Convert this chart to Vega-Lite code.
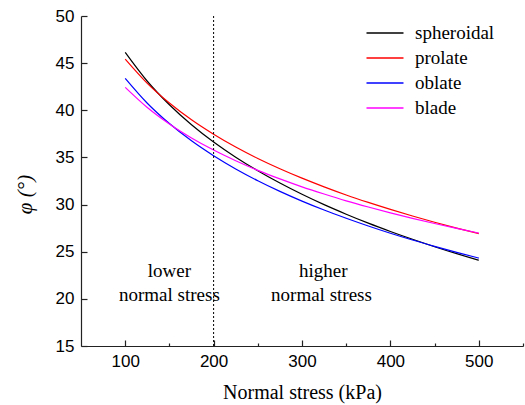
{
  "$schema": "https://vega.github.io/schema/vega-lite/v6.json",
  "width": 442,
  "height": 330,
  "autosize": {"type": "none"},
  "padding": {"left": 81, "top": 16, "right": 2, "bottom": 59},
  "background": "white",
  "config": {
    "view": {"stroke": null},
    "axis": {
      "domainColor": "#222",
      "domainWidth": 1.2,
      "tickColor": "#222",
      "tickWidth": 1.2,
      "labelFont": "Liberation Sans",
      "labelFontSize": 17,
      "labelColor": "black",
      "titleFont": "Liberation Serif",
      "titleFontSize": 20,
      "titleFontWeight": "normal",
      "titleColor": "black",
      "grid": false
    }
  },
  "layer": [
    {
      "data": {
        "values": [
          {"shape": "spheroidal", "stress": 100, "phi": 46.14},
          {"shape": "spheroidal", "stress": 125, "phi": 43.08},
          {"shape": "spheroidal", "stress": 150, "phi": 40.59},
          {"shape": "spheroidal", "stress": 175, "phi": 38.47},
          {"shape": "spheroidal", "stress": 200, "phi": 36.64},
          {"shape": "spheroidal", "stress": 225, "phi": 35.03},
          {"shape": "spheroidal", "stress": 250, "phi": 33.59},
          {"shape": "spheroidal", "stress": 275, "phi": 32.28},
          {"shape": "spheroidal", "stress": 300, "phi": 31.09},
          {"shape": "spheroidal", "stress": 325, "phi": 29.99},
          {"shape": "spheroidal", "stress": 350, "phi": 28.98},
          {"shape": "spheroidal", "stress": 375, "phi": 28.03},
          {"shape": "spheroidal", "stress": 400, "phi": 27.15},
          {"shape": "spheroidal", "stress": 425, "phi": 26.32},
          {"shape": "spheroidal", "stress": 450, "phi": 25.53},
          {"shape": "spheroidal", "stress": 475, "phi": 24.79},
          {"shape": "spheroidal", "stress": 500, "phi": 24.09},
          {"shape": "prolate", "stress": 100, "phi": 45.43},
          {"shape": "prolate", "stress": 125, "phi": 42.86},
          {"shape": "prolate", "stress": 150, "phi": 40.77},
          {"shape": "prolate", "stress": 175, "phi": 38.99},
          {"shape": "prolate", "stress": 200, "phi": 37.46},
          {"shape": "prolate", "stress": 225, "phi": 36.10},
          {"shape": "prolate", "stress": 250, "phi": 34.89},
          {"shape": "prolate", "stress": 275, "phi": 33.80},
          {"shape": "prolate", "stress": 300, "phi": 32.80},
          {"shape": "prolate", "stress": 325, "phi": 31.88},
          {"shape": "prolate", "stress": 350, "phi": 31.02},
          {"shape": "prolate", "stress": 375, "phi": 30.23},
          {"shape": "prolate", "stress": 400, "phi": 29.49},
          {"shape": "prolate", "stress": 425, "phi": 28.79},
          {"shape": "prolate", "stress": 450, "phi": 28.13},
          {"shape": "prolate", "stress": 475, "phi": 27.51},
          {"shape": "prolate", "stress": 500, "phi": 26.92},
          {"shape": "oblate", "stress": 100, "phi": 43.39},
          {"shape": "oblate", "stress": 125, "phi": 40.75},
          {"shape": "oblate", "stress": 150, "phi": 38.59},
          {"shape": "oblate", "stress": 175, "phi": 36.76},
          {"shape": "oblate", "stress": 200, "phi": 35.18},
          {"shape": "oblate", "stress": 225, "phi": 33.78},
          {"shape": "oblate", "stress": 250, "phi": 32.53},
          {"shape": "oblate", "stress": 275, "phi": 31.40},
          {"shape": "oblate", "stress": 300, "phi": 30.37},
          {"shape": "oblate", "stress": 325, "phi": 29.42},
          {"shape": "oblate", "stress": 350, "phi": 28.55},
          {"shape": "oblate", "stress": 375, "phi": 27.73},
          {"shape": "oblate", "stress": 400, "phi": 26.96},
          {"shape": "oblate", "stress": 425, "phi": 26.24},
          {"shape": "oblate", "stress": 450, "phi": 25.57},
          {"shape": "oblate", "stress": 475, "phi": 24.93},
          {"shape": "oblate", "stress": 500, "phi": 24.32},
          {"shape": "blade", "stress": 100, "phi": 42.43},
          {"shape": "blade", "stress": 125, "phi": 40.29},
          {"shape": "blade", "stress": 150, "phi": 38.54},
          {"shape": "blade", "stress": 175, "phi": 37.06},
          {"shape": "blade", "stress": 200, "phi": 35.78},
          {"shape": "blade", "stress": 225, "phi": 34.65},
          {"shape": "blade", "stress": 250, "phi": 33.63},
          {"shape": "blade", "stress": 275, "phi": 32.72},
          {"shape": "blade", "stress": 300, "phi": 31.88},
          {"shape": "blade", "stress": 325, "phi": 31.12},
          {"shape": "blade", "stress": 350, "phi": 30.40},
          {"shape": "blade", "stress": 375, "phi": 29.74},
          {"shape": "blade", "stress": 400, "phi": 29.12},
          {"shape": "blade", "stress": 425, "phi": 28.54},
          {"shape": "blade", "stress": 450, "phi": 27.99},
          {"shape": "blade", "stress": 475, "phi": 27.47},
          {"shape": "blade", "stress": 500, "phi": 26.98}
        ]
      },
      "mark": {"type": "line", "strokeWidth": 1.2, "interpolate": "monotone"},
      "encoding": {
        "x": {
          "field": "stress",
          "type": "quantitative",
          "scale": {"domain": [50, 550], "nice": false, "zero": false},
          "axis": {
            "title": "Normal stress (kPa)",
            "values": [100, 150, 200, 250, 300, 350, 400, 450, 500, 550],
            "labelExpr": "datum.value % 100 === 0 ? datum.label : ''",
            "tickSize": -6,
            "tickDash": {"condition": {"test": "datum.value % 100 === 0", "value": [10, 0]}, "value": [3, 10]},
            "labelPadding": 13,
            "titleY": 46,
            "titleBaseline": "middle"
          }
        },
        "y": {
          "field": "phi",
          "type": "quantitative",
          "scale": {"domain": [15, 50], "nice": false, "zero": false},
          "axis": {
            "title": "φ (°)",
            "titleFontStyle": "italic",
            "titleFontSize": 21,
            "values": [15, 17.5, 20, 22.5, 25, 27.5, 30, 32.5, 35, 37.5, 40, 42.5, 45, 47.5, 50],
            "labelExpr": "datum.value % 5 === 0 ? datum.label : ''",
            "tickSize": -6,
            "tickDash": {"condition": {"test": "datum.value % 5 === 0", "value": [10, 0]}, "value": [3, 10]},
            "labelPadding": 13,
            "titleX": -56,
            "titleY": 178,
            "titleAlign": "center",
            "titleBaseline": "middle",
            "titleAngle": -90
          }
        },
        "color": {
          "field": "shape",
          "type": "nominal",
          "scale": {
            "domain": ["spheroidal", "prolate", "oblate", "blade"],
            "range": ["#000000", "#ff0000", "#0000ff", "#ff00ff"]
          },
          "legend": {
            "title": null,
            "orient": "none",
            "legendX": 294,
            "legendY": 7,
            "padding": 0,
            "symbolType": "M-2,0H2",
            "symbolSize": 342,
            "symbolStrokeWidth": 1.4,
            "labelFont": "Liberation Serif",
            "labelFontSize": 19,
            "labelColor": "black",
            "labelOffset": 20,
            "rowPadding": 5
          }
        }
      }
    },
    {
      "data": {"values": [{"stress": 200}]},
      "mark": {"type": "rule", "color": "black", "strokeWidth": 1, "strokeDash": [2, 2]},
      "encoding": {"x": {"field": "stress", "type": "quantitative"}}
    },
    {
      "data": {
        "values": [
          {"stress": 150, "phi": 22.95, "note": "lower"},
          {"stress": 150, "phi": 20.4, "note": "normal stress"},
          {"stress": 324, "phi": 22.95, "note": "higher"},
          {"stress": 322, "phi": 20.4, "note": "normal stress"}
        ]
      },
      "mark": {"type": "text", "font": "Liberation Serif", "fontSize": 19, "color": "black"},
      "encoding": {
        "x": {"field": "stress", "type": "quantitative"},
        "y": {"field": "phi", "type": "quantitative"},
        "text": {"field": "note"}
      }
    }
  ]
}
